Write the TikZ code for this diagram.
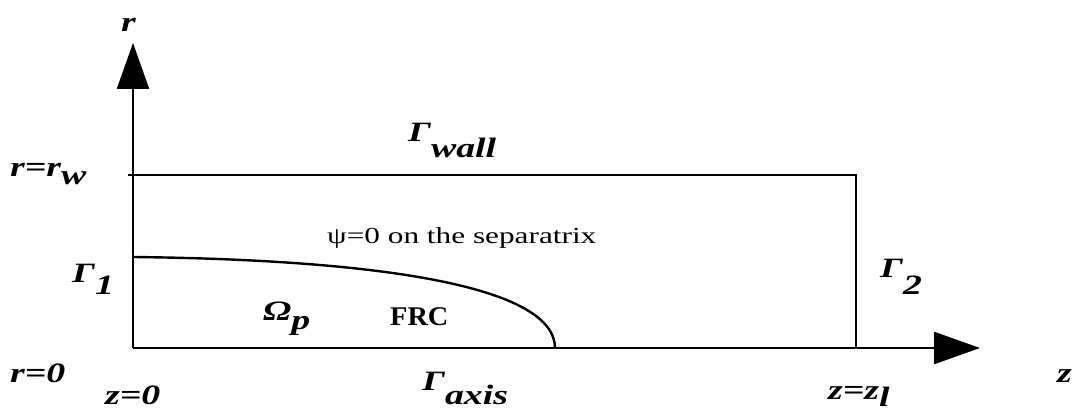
\documentclass[tikz,border=0pt]{standalone}
\usepackage{fontspec}
\setmainfont{Liberation Serif}
\newfontfamily\lblfont[FakeStretch=1.35]{Liberation Serif}
\newfontfamily\txtfont[FakeStretch=1.36]{Liberation Serif}
\newfontfamily\frcfont[FakeStretch=1.05]{Liberation Serif}
\usetikzlibrary{arrows.meta}
\newcommand{\lowsub}[3]{#1\raisebox{-#3}{#2}}
\tikzset{
  lbl/.style={inner sep=0pt, anchor=base west, font=\lblfont\fontsize{28}{30}\selectfont\bfseries\itshape},
  txt/.style={inner sep=0pt, anchor=base west, font=\txtfont\fontsize{23}{26}\selectfont},
  frc/.style={inner sep=0pt, anchor=base west, font=\frcfont\fontsize{27}{30}\selectfont\bfseries},
  edge/.style={line width=2.4pt},
  axis/.style={line width=2.4pt, -{Triangle[length=46pt,width=32pt]}},
}
\begin{document}
\begin{tikzpicture}[x=1pt,y=-1pt]
\useasboundingbox (0,0) rectangle (1078,414);
% corner coordinates
\coordinate (O) at (133,348);
\coordinate (rtip) at (133,43);
\coordinate (ztip) at (980,348);
\coordinate (TL) at (128,175);
\coordinate (TR) at (856,175);
\coordinate (BR) at (856,348);
\coordinate (S0) at (133,257);
\coordinate (S1) at (555,348);
% axes
\draw[axis] (O) -- (rtip);
\draw[axis] (O) -- (ztip);
% rectangle
\draw[edge] (TL) -- (TR) -- (BR);
% separatrix
\draw[edge] (S0) .. controls (400,260) and (555,290) .. (S1);
% labels
\node[lbl] (rl) at (121,32) {r};
\node[lbl] (rw) at (10,177) {\lowsub{r=r}{w}{8pt}};
\node[lbl] (gw) at (408,142) {\lowsub{Γ}{wall}{16pt}};
\node[txt] (psi) at (327,243) {ψ=0 on the separatrix};
\node[lbl] (g1) at (72,282) {\lowsub{Γ}{1}{12pt}};
\node[lbl] (om) at (263,320) {\lowsub{Ω}{p}{9pt}};
\node[frc] (frcl) at (390,325) {FRC};
\node[lbl] (g2) at (880,277) {\lowsub{Γ}{2}{17pt}};
\node[lbl] (r0) at (10,382) {r=0};
\node[lbl] (z0) at (105,404) {z=0};
\node[lbl] (ga) at (422,390) {\lowsub{Γ}{axis}{14pt}};
\node[lbl] (zl) at (828,399) {\lowsub{z=z}{l}{7pt}};
\node[lbl] (zz) at (1057,382) {z};
\end{tikzpicture}
\end{document}
